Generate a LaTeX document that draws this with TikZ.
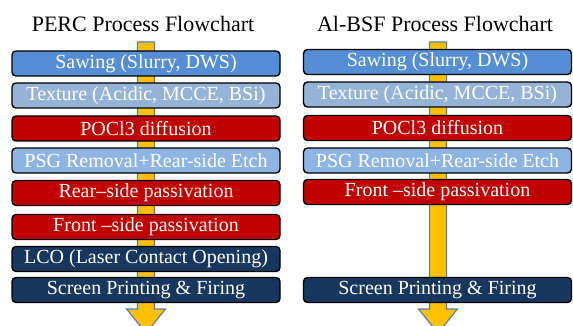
\documentclass[tikz,border=0pt]{standalone}
\usepackage{fontspec}
\setmainfont{Liberation Serif}
\definecolor{sawblue}{HTML}{558ED5}
\definecolor{texblue}{HTML}{95B3D7}
\definecolor{psgblue}{HTML}{8EB4E3}
\definecolor{procred}{HTML}{C00000}
\definecolor{navy}{HTML}{17375E}
\definecolor{gold}{HTML}{FFC000}
\definecolor{arrowedge}{HTML}{5B7FA8}
\tikzset{
  stepbox/.style={draw=black, line width=1.4pt, rounded corners=4pt,
    minimum width=268pt, minimum height=25pt, inner sep=0pt,
    text=white, font=\fontsize{20}{22}\selectfont},
  title/.style={font=\fontsize{22}{24}\selectfont, text=black},
  flowarrow/.style={fill=gold, draw=arrowedge, line width=1.2pt},
}
\begin{document}
\begin{tikzpicture}[x=1pt,y=-1pt]
\useasboundingbox (0,0) rectangle (573,326);
\clip (0,0) rectangle (573,326);

% background process arrows
\foreach \c in {146,438}{
  \draw[flowarrow] (\c-8.5,42) -- (\c+8.5,42) -- (\c+8.5,309) -- (\c+19.5,309)
    -- (\c,333) -- (\c-19.5,309) -- (\c-8.5,309) -- cycle;
}

% PERC column
\node[title] (ltitle) at (143,24) {PERC Process Flowchart};
\node[stepbox, fill=sawblue] (l1) at (146,63.5) {Sawing (Slurry, DWS)};
\node[stepbox, fill=texblue] (l2) at (146,95.5) {Texture (Acidic, MCCE, BSi)};
\node[stepbox, fill=procred] (l3) at (146,128.5) {POCl3 diffusion};
\node[stepbox, fill=psgblue] (l4) at (146,160.5) {PSG Removal+Rear-side Etch};
\node[stepbox, fill=procred] (l5) at (146,193) {Rear–side passivation};
\node[stepbox, fill=procred] (l6) at (146,227) {Front –side passivation};
\node[stepbox, fill=navy] (l7) at (146,259) {LCO (Laser Contact Opening)};
\node[stepbox, fill=navy] (l8) at (146,290) {Screen Printing \& Firing};

% Al-BSF column
\node[title] (rtitle) at (435,24) {Al-BSF Process Flowchart};
\node[stepbox, fill=sawblue] (r1) at (437.5,62) {Sawing (Slurry, DWS)};
\node[stepbox, fill=texblue] (r2) at (437.5,94.5) {Texture (Acidic, MCCE, BSi)};
\node[stepbox, fill=procred] (r3) at (437.5,128) {POCl3 diffusion};
\node[stepbox, fill=psgblue] (r4) at (437.5,160.5) {PSG Removal+Rear-side Etch};
\node[stepbox, fill=procred] (r5) at (437.5,192) {Front –side passivation};
\node[stepbox, fill=navy] (r6) at (437.5,290) {Screen Printing \& Firing};
\end{tikzpicture}
\end{document}
